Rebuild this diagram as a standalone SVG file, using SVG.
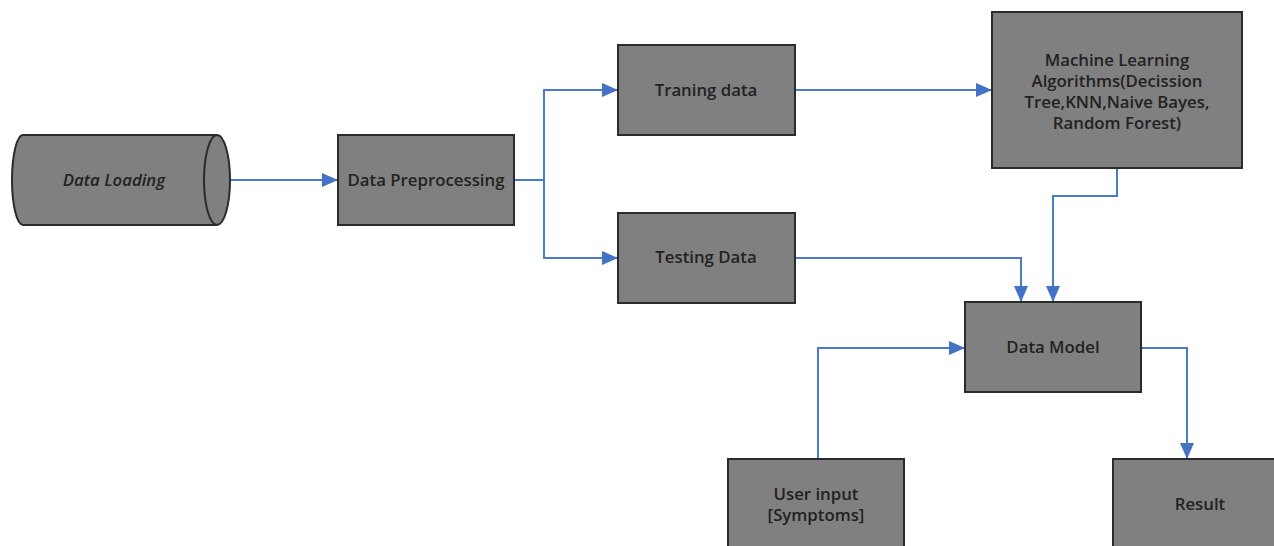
<svg xmlns="http://www.w3.org/2000/svg" width="1274" height="546" viewBox="0 0 1274 546">
<defs>
<style>
.box{fill:#808080;stroke:#2b2b2b;stroke-width:2}
.t{font-family:"Open Sans","Liberation Sans",sans-serif;font-size:16.8px;font-weight:600;fill:#222222;text-anchor:middle}
.c{fill:none;stroke:#4a7acb;stroke-width:2}
</style>
<marker id="ah" viewBox="0 0 16 14" refX="16" refY="7" markerWidth="16" markerHeight="14" markerUnits="userSpaceOnUse" orient="auto">
<path d="M0,0 L16,7 L0,14 Z" fill="#4472c4"/>
</marker>
</defs>
<rect width="1274" height="546" fill="#ffffff"/>
<g id="connectors">
<path class="c" d="M230,180 H338" marker-end="url(#ah)"/>
<path class="c" d="M514,180 H544 V90 H618" marker-end="url(#ah)"/>
<path class="c" d="M544,180 V258 H618" marker-end="url(#ah)"/>
<path class="c" d="M795,90 H992" marker-end="url(#ah)"/>
<path class="c" d="M795,258 H1021 V302" marker-end="url(#ah)"/>
<path class="c" d="M1117,168 V196 H1053 V302" marker-end="url(#ah)"/>
<path class="c" d="M818,459 V348 H965" marker-end="url(#ah)"/>
<path class="c" d="M1141,348 H1187 V459" marker-end="url(#ah)"/>
</g>
<g id="data-loading">
<path class="box" d="M23,135 H217 A13,45 0 0 1 217,225 H23 A11,45 0 0 1 23,135 Z"/>
<path class="box" d="M217,135 A13,45 0 0 0 217,225"/>
<text class="t" x="114" y="186" font-style="italic">Data Loading</text>
</g>
<g id="data-preprocessing">
<rect class="box" x="338" y="135" width="176" height="90"/>
<text class="t" x="426" y="186">Data Preprocessing</text>
</g>
<g id="training-data">
<rect class="box" x="618" y="45" width="177" height="90"/>
<text class="t" x="706" y="96">Traning data</text>
</g>
<g id="testing-data">
<rect class="box" x="618" y="213" width="177" height="90"/>
<text class="t" x="706" y="263">Testing Data</text>
</g>
<g id="ml-algorithms">
<rect class="box" x="992" y="12" width="250" height="156"/>
<text class="t" x="1117" y="66">Machine Learning</text>
<text class="t" x="1117" y="87">Algorithms(Decission</text>
<text class="t" x="1117" y="108">Tree,KNN,Naive Bayes,</text>
<text class="t" x="1117" y="129">Random Forest)</text>
</g>
<g id="data-model">
<rect class="box" x="965" y="302" width="176" height="90"/>
<text class="t" x="1053" y="353">Data Model</text>
</g>
<g id="user-input">
<rect class="box" x="728" y="459" width="176" height="100"/>
<text class="t" x="816" y="500">User input</text>
<text class="t" x="816" y="521">[Symptoms]</text>
</g>
<g id="result">
<rect class="box" x="1113" y="459" width="176" height="100"/>
<text class="t" x="1200" y="510">Result</text>
</g>
</svg>
